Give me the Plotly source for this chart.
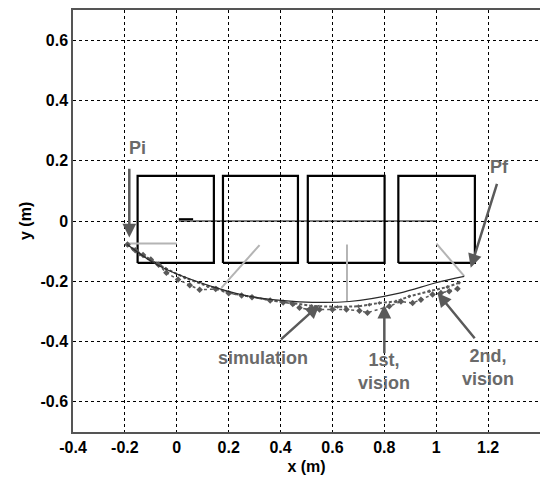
import plotly.graph_objects as go

# Workspace boxes (x-min, x-max) and common y extent
box_x0 = [-0.151, 0.178, 0.505, 0.854]
box_x1 = [0.143, 0.467, 0.801, 1.149]
box_y0, box_y1 = -0.139, 0.150

# Simulated end-effector path
sim_x = [-0.191, -0.065, 0.153, 0.293, 0.473, 0.665, 0.858, 0.999, 1.108]
sim_y = [-0.078, -0.150, -0.222, -0.252, -0.268, -0.267, -0.239, -0.205, -0.184]

# First vision-guided run
vis1_x = [-0.19, -0.16, -0.13, -0.10, -0.07, -0.04, 0.005, 0.05, 0.088, 0.15, 0.20, 0.25,
          0.29, 0.36, 0.41, 0.447, 0.473, 0.512, 0.55, 0.60, 0.654, 0.704, 0.735, 0.819,
          0.864, 0.909, 0.941, 0.986, 1.018, 1.05, 1.082]
vis1_y = [-0.078, -0.097, -0.113, -0.128, -0.145, -0.172, -0.194, -0.213, -0.228, -0.226,
          -0.240, -0.247, -0.253, -0.264, -0.270, -0.275, -0.288, -0.294, -0.294, -0.294,
          -0.294, -0.298, -0.304, -0.283, -0.267, -0.272, -0.261, -0.244, -0.239, -0.233,
          -0.225]

# Second vision-guided run
vis2_x = [-0.192, -0.169, -0.142, -0.112, -0.077, -0.042, 0.031, 0.120, 0.153, 0.204, 0.293,
          0.358, 0.409, 0.447, 0.52, 0.62, 0.70, 0.742, 0.781, 0.845, 0.896, 0.973, 1.043,
          1.088]
vis2_y = [-0.078, -0.094, -0.111, -0.124, -0.141, -0.158, -0.188, -0.217, -0.222, -0.239,
          -0.252, -0.263, -0.269, -0.272, -0.282, -0.285, -0.283, -0.278, -0.272, -0.267,
          -0.250, -0.233, -0.219, -0.205]

# Light grey link segments
links = [
    ([-0.185, 0.0], [-0.075, -0.075]),
    ([0.319, 0.172], [-0.080, -0.222]),
    ([0.656, 0.656], [-0.078, -0.267]),
    ([1.001, 1.108], [-0.075, -0.183]),
]

# Reference axis through the boxes
ref_x = [0.008, 1.0]
ref_y = [0.0, 0.0]
mark_x = [0.008, 0.063]
mark_y = [0.006, 0.006]

x_ticks = [-0.4, -0.2, 0, 0.2, 0.4, 0.6, 0.8, 1, 1.2]
y_ticks = [-0.6, -0.4, -0.2, 0, 0.2, 0.4, 0.6]

# Labelled arrows: (text, text_x, text_y, tail_x, tail_y, tip_x, tip_y)
callouts = [
    ("Pi", -0.15, 0.242, -0.183, 0.178, -0.183, -0.055),
    ("Pf", 1.242, 0.179, 1.236, 0.128, 1.133, -0.155),
    ("simulation", 0.332, -0.455, 0.396, -0.397, 0.55, -0.278),
    ("1st,<br>vision", 0.80, -0.50, 0.80, -0.444, 0.80, -0.278),
    ("2nd,<br>vision", 1.20, -0.485, 1.153, -0.394, 1.005, -0.239),
]

fig = go.Figure()

for x0, x1 in zip(box_x0, box_x1):
    fig.add_trace(go.Scatter(
        x=[x0, x1, x1, x0, x0], y=[box_y0, box_y0, box_y1, box_y1, box_y0],
        mode="lines", line=dict(color="black", width=2.2), hoverinfo="skip"))

fig.add_trace(go.Scatter(x=ref_x, y=ref_y, mode="lines",
                         line=dict(color="black", width=1)))
fig.add_trace(go.Scatter(x=mark_x, y=mark_y, mode="lines",
                         line=dict(color="black", width=2)))

for lx, ly in links:
    fig.add_trace(go.Scatter(x=lx, y=ly, mode="lines",
                             line=dict(color="#b4b4b4", width=2)))

fig.add_trace(go.Scatter(x=vis1_x, y=vis1_y, mode="lines+markers", name="1st, vision",
                         line=dict(color="#5a5a5a", width=1.5, dash="dot"),
                         marker=dict(symbol="diamond", size=5, color="#5a5a5a")))
fig.add_trace(go.Scatter(x=vis2_x, y=vis2_y, mode="lines+markers", name="2nd, vision",
                         line=dict(color="#5a5a5a", width=2, dash="3px,2px"),
                         marker=dict(symbol="diamond", size=3, color="#5a5a5a")))
fig.add_trace(go.Scatter(x=sim_x, y=sim_y, mode="lines", name="simulation",
                         line=dict(color="#2a2a2a", width=1.2, shape="spline")))

for text, tx, ty, ax, ay, hx, hy in callouts:
    fig.add_annotation(x=hx, y=hy, ax=ax, ay=ay, xref="x", yref="y", axref="x", ayref="y",
                       text="", showarrow=True, arrowhead=2, arrowsize=1.1,
                       arrowwidth=2.5, arrowcolor="#5a5a5a")
    fig.add_annotation(x=tx, y=ty, xref="x", yref="y", text=f"<b>{text}</b>",
                       showarrow=False,
                       font=dict(family="Liberation Sans, Arial", size=18, color="#6a6a6a"),
                       align="center")

axis_font = dict(family="Liberation Sans, Arial", size=16, color="black")

# y-axis title placed as a rotated annotation left of the tick labels
fig.add_annotation(x=-48 / 467, y=0.5, xref="paper", yref="paper", text="<b>y (m)</b>",
                   textangle=-90, showarrow=False, font=axis_font,
                   xanchor="center", yanchor="middle")

fig.update_layout(
    width=540, height=477,
    margin=dict(l=73, r=0, t=10, b=45),
    paper_bgcolor="white", plot_bgcolor="white",
    showlegend=False,
    font=axis_font,
)
fig.update_xaxes(
    range=[-0.4, 1.4], tickvals=x_ticks, ticktext=[f"<b>{v:g}</b>" for v in x_ticks],
    showgrid=True, gridcolor="black", gridwidth=1, griddash="3px,3px",
    showline=True, linecolor="#555555", linewidth=1.5, mirror=True,
    zeroline=False, ticks="", tickfont=axis_font,
    title=dict(text="<b>x (m)</b>", font=axis_font, standoff=6),
)
fig.update_yaxes(
    range=[-0.7, 0.7], tickvals=y_ticks, ticktext=[f"<b>{v:g}</b>" for v in y_ticks],
    showgrid=True, gridcolor="black", gridwidth=1, griddash="3px,3px",
    showline=True, linecolor="#555555", linewidth=1.5, mirror=False,
    zeroline=False, ticks="", tickfont=axis_font,
)

fig.write_html("out.html")
